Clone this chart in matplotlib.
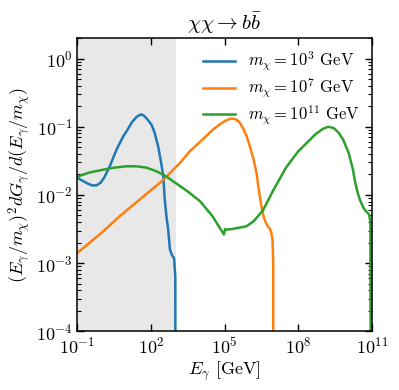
import matplotlib
matplotlib.use("Agg")
import matplotlib.pyplot as plt
import numpy as np

plt.rcParams['font.family'] = 'serif'
plt.rcParams['font.serif'] = ['cmr10']
plt.rcParams['mathtext.fontset'] = 'cm'
plt.rcParams['axes.formatter.use_mathtext'] = True
plt.rcParams['axes.unicode_minus'] = False

# log10(E_gamma / GeV) and log10(spectrum)
blue_logE = [-1.0, -0.8, -0.6, -0.4, -0.22, -0.05, 0.1, 0.32, 0.6, 0.87, 1.05, 1.21, 1.4,
             1.52, 1.61, 1.72, 1.85, 2.02, 2.15, 2.29, 2.40, 2.50, 2.56, 2.63, 2.70, 2.77,
             2.85, 2.94, 2.99, 3.0]
blue_logy = [-1.75, -1.79, -1.83, -1.86, -1.86, -1.82, -1.74, -1.58, -1.33, -1.14, -1.04,
             -0.94, -0.86, -0.83, -0.82, -0.84, -0.89, -0.97, -1.09, -1.29, -1.50, -1.73,
             -2.07, -2.32, -2.51, -2.80, -2.88, -2.93, -3.2, -6.0]

orange_logE = [-1.0, 0.0, 0.73, 1.5, 2.5, 3.18, 3.58, 4.0, 4.53, 4.9, 5.1, 5.28, 5.45,
               5.6, 5.75, 5.9, 6.03, 6.18, 6.30, 6.37, 6.50, 6.6, 6.68, 6.76, 6.84, 6.9,
               6.95, 6.98, 6.98]
orange_logy = [-2.85, -2.55, -2.31, -2.08, -1.78, -1.53, -1.36, -1.22, -1.04, -0.94, -0.90,
               -0.88, -0.89, -0.93, -1.02, -1.14, -1.29, -1.48, -1.68, -1.87, -2.17, -2.33,
               -2.41, -2.46, -2.49, -2.55, -2.66, -3.0, -6.0]

green_logE = [-1.0, -0.5, 0.05, 0.5, 1.0, 1.4, 1.82, 2.2, 2.63, 2.9, 3.18, 3.5, 3.99,
              4.5, 4.97, 5.02, 5.07, 5.3, 5.6, 5.89, 6.2, 6.57, 7.0, 7.5, 8.0, 8.34,
              8.7, 9.01, 9.22, 9.45, 9.65, 9.83, 10.05, 10.23, 10.30, 10.4, 10.51, 10.62,
              10.71, 10.82, 10.89, 10.94, 10.96]
green_logy = [-1.73, -1.67, -1.63, -1.60, -1.58, -1.58, -1.60, -1.65, -1.73, -1.80, -1.87,
              -1.95, -2.09, -2.31, -2.58, -2.50, -2.51, -2.50, -2.48, -2.46, -2.38, -2.22,
              -1.92, -1.60, -1.36, -1.24, -1.11, -1.03, -1.0, -1.02, -1.09, -1.19, -1.38,
              -1.63, -1.78, -1.94, -2.07, -2.16, -2.22, -2.26, -2.29, -2.40, -6.0]

labels = [r'$m_\chi = 10^3$ GeV', r'$m_\chi = 10^7$ GeV', r'$m_\chi = 10^{11}$ GeV']
colors = ['#1f77b4', '#ff7f0e', '#2ca02c']

fig = plt.figure(figsize=(3.99, 3.90), dpi=100)
ax = fig.add_axes([0.194, 0.1505, 0.738, 0.752])

ax.axvspan(1e-1, 1e3, color='#e8e8e8', lw=0, zorder=0)

for lx, ly, lab, c in zip([blue_logE, orange_logE, green_logE],
                          [blue_logy, orange_logy, green_logy], labels, colors):
    ax.plot(10 ** np.array(lx), 10 ** np.array(ly), color=c, lw=1.8, label=lab)

ax.set_xscale('log')
ax.set_yscale('log')
ax.set_xlim(1e-1, 1e11)
ax.set_ylim(1e-4, 2)
ax.set_xticks([1e-1, 1e2, 1e5, 1e8, 1e11])
ax.xaxis.set_minor_locator(matplotlib.ticker.NullLocator())

ax.tick_params(which='both', direction='in', top=True, right=True, labelsize=13)
ax.tick_params(which='major', length=5, width=1)
ax.tick_params(which='minor', length=3, width=0.8)
for s in ax.spines.values():
    s.set_linewidth(1.1)

ax.set_xlabel(r'$E_\gamma$ [GeV]', fontsize=13, labelpad=2)
ax.set_ylabel(r'$(E_\gamma/m_\chi)^2 dG_\gamma/d(E_\gamma/m_\chi)$', fontsize=13, labelpad=2)
ax.set_title(r'$\chi\chi \rightarrow b\bar{b}$', fontsize=15, pad=6)

ax.legend(loc='upper right', frameon=False, fontsize=12, handlelength=1.9,
          borderaxespad=0.3, labelspacing=0.18)

fig.savefig('out.png', dpi=100)
